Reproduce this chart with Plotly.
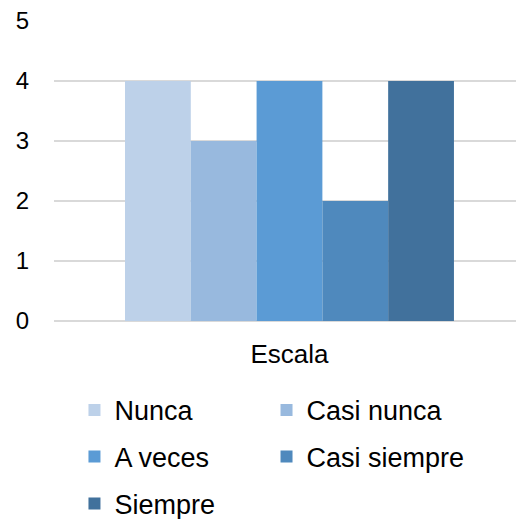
import plotly.graph_objects as go

categories = ["Escala"]
series_names = ["Nunca", "Casi nunca", "A veces", "Casi siempre", "Siempre"]
series_values = [4, 3, 4, 2, 4]
colors = ["#BDD1E9", "#98B9DE", "#5B9BD5", "#4F89BD", "#41719C"]
y_ticks = [0, 1, 2, 3, 4, 5]

FONT = "Liberation Sans, Arial, sans-serif"

# one legend per entry so the entries sit in a two-column grid
legend_ids = ["legend", "legend2", "legend3", "legend4", "legend5"]
legend_pos = [(0.0443, -0.298), (0.46, -0.298),
              (0.0443, -0.453), (0.46, -0.453),
              (0.0443, -0.610)]

fig = go.Figure()
for name, val, col, lg in zip(series_names, series_values, colors, legend_ids):
    fig.add_trace(go.Bar(
        x=categories, y=[val], name=name,
        marker=dict(color=col, line=dict(width=0)),
        legend=lg, showlegend=True,
    ))

legend_common = dict(
    orientation="h", xanchor="left", yanchor="middle",
    font=dict(family=FONT, size=27, color="#000000"),
    bgcolor="rgba(0,0,0,0)", itemclick=False, itemdoubleclick=False,
)
legends = {lg: dict(x=px, y=py, **legend_common) for lg, (px, py) in zip(legend_ids, legend_pos)}

fig.update_layout(
    width=516, height=519,
    showlegend=True,
    margin=dict(l=54, r=0, t=21, b=198, autoexpand=False),
    paper_bgcolor="white", plot_bgcolor="white",
    barmode="group", bargap=0.288, bargroupgap=0,
    font=dict(family=FONT, size=24, color="#000000"),
    xaxis=dict(showgrid=False, showline=False, ticks="", ticklabelstandoff=15,
               range=[-0.5097, 0.4903],
               tickfont=dict(family=FONT, size=26, color="#000000")),
    yaxis=dict(range=[0, 5], tickvals=y_ticks, showgrid=True, gridcolor="#D9D9D9",
               gridwidth=1.5, zeroline=True, zerolinecolor="#D9D9D9", zerolinewidth=1.5,
               showline=False, ticks="", ticklabelstandoff=24,
               tickfont=dict(family=FONT, size=24, color="#000000")),
    **legends,
)

fig.write_html("out.html")
